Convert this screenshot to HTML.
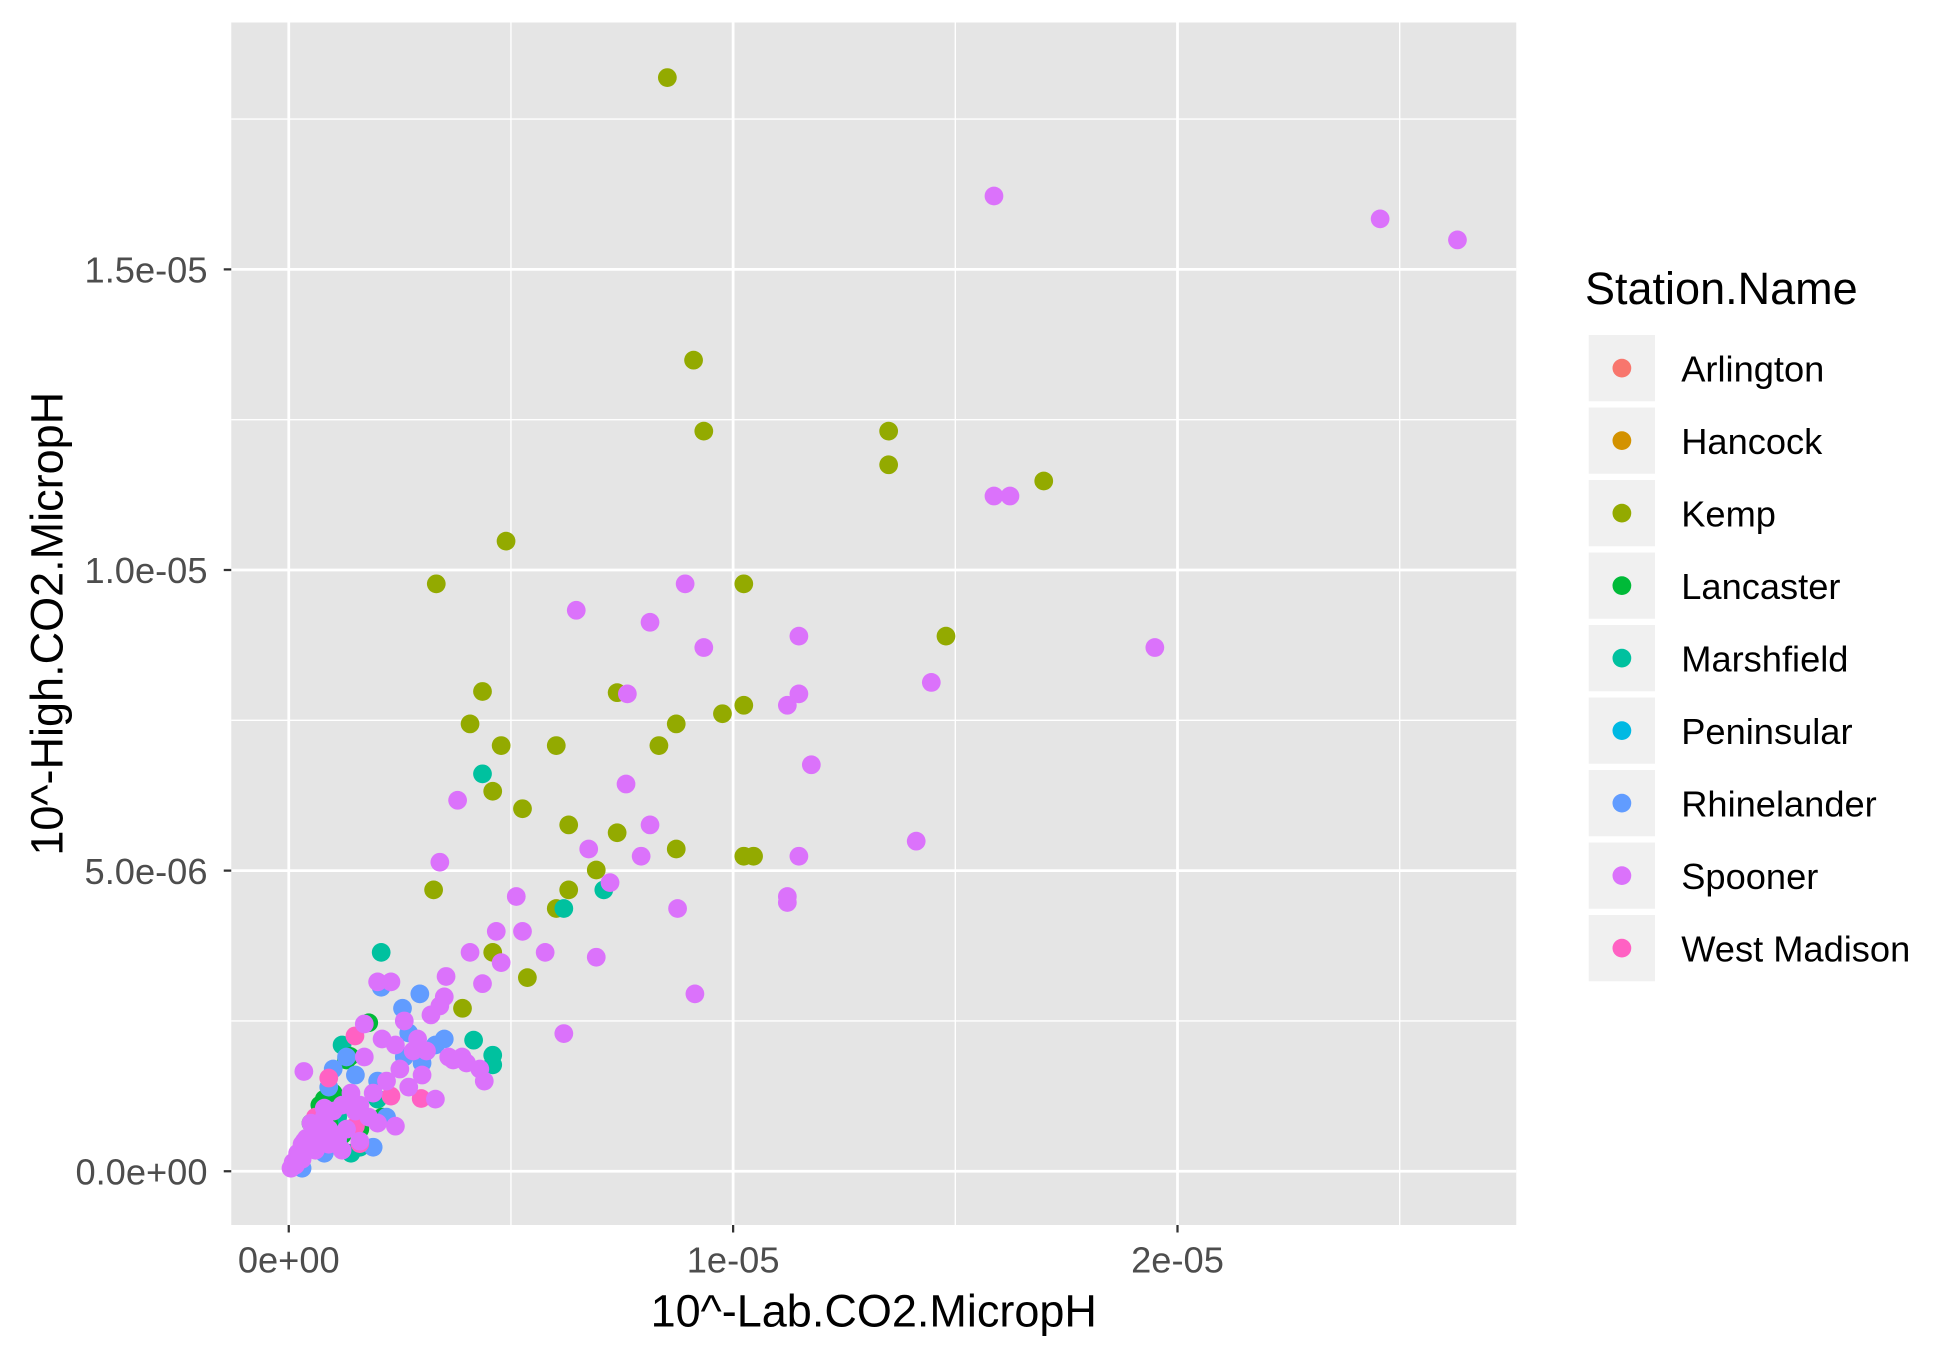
<!DOCTYPE html>
<html><head><meta charset="utf-8"><style>
html,body{margin:0;padding:0;background:#fff}
svg{display:block}
text{font-family:"Liberation Sans",Arial,sans-serif}
</style></head><body>
<svg id="chart" width="1950" height="1350" viewBox="0 0 1560 1080" xmlns="http://www.w3.org/2000/svg">
<rect x="185" y="18" width="1028" height="962" fill="#e5e5e5"/>
<g id="grid"></g>
<g id="points"></g>
<g id="axes"></g>
<text x="699" y="1061" font-size="36" text-anchor="middle" fill="#000">10^-Lab.CO2.MicropH</text>
<text transform="translate(50,499) rotate(-90)" font-size="36" text-anchor="middle" fill="#000">10^-High.CO2.MicropH</text>
<g id="legend">
<text x="1268" y="243" font-size="36" fill="#000">Station.Name</text>
</g>
</svg>
<script>
const stations=["Arlington","Hancock","Kemp","Lancaster","Marshfield","Peninsular","Rhinelander","Spooner","West Madison"];
const colors=["#F8766D","#D39200","#93AA00","#00BA38","#00C19F","#00B9E3","#619CFF","#DB72FB","#FF61C3"];
const xTicks=[0,10,20];
const xTickLabels=["0e+00","1e-05","2e-05"];
const yTicks=[0,5,10,15];
const yTickLabels=["0.0e+00","5.0e-06","1.0e-05","1.5e-05"];
// values in units of 1e-6
const kempX=[8.52,9.11,9.34,13.5,13.5,16.99,4.89,3.32,10.24,14.79,4.36,4.08,7.39,4.78,6.02,8.33,8.72,9.76,10.24,4.59,5.26,6.3,7.39,6.92,8.72,10.24,10.46,6.3,3.26,6.02,4.59,5.37,3.91];
const kempY=[18.19,13.49,12.31,12.31,11.75,11.48,10.48,9.77,9.77,8.9,7.98,7.44,7.96,7.08,7.08,7.08,7.44,7.61,7.75,6.32,6.03,5.76,5.63,5.01,5.36,5.24,5.24,4.68,4.68,4.37,3.64,3.22,2.71];
const marshX=[4.36,7.09,6.19,2.08,4.16,4.59,4.59,1.2,1.6,0.9,2.0,1.4,1.1,0.6];
const marshY=[6.61,4.68,4.37,3.64,2.18,1.93,1.77,2.1,0.4,0.5,1.2,0.3,0.9,0.6];
const lancX=[1.8,1.38,1.3,1.0,0.7,0.9,1.2,1.5,0.5,1.1,1.6,0.8,2.1,0.6];
const lancY=[2.47,1.91,1.85,1.3,1.1,0.8,0.6,1.0,0.8,0.5,0.7,1.2,0.9,0.4];
const rhinX=[2.95,2.56,2.08,3.1,3.3,3.5,2.7,2.0,1.0,0.9,1.3,2.6,0.3,1.1,0.8,2.2,3.0,1.9,0.1,1.5];
const rhinY=[2.95,2.71,3.06,2.0,2.1,2.2,2.3,1.5,1.7,1.4,1.9,1.9,0.05,0.5,0.3,0.9,1.8,0.4,0.1,1.6];
const westX=[2.98,1.49,1.6,0.9,2.3,1.5,0.6];
const westY=[1.21,2.25,0.46,1.55,1.25,0.75,0.9];
const spoonX=[15.87,24.56,26.3,15.87,16.23,8.92,6.47,8.13,9.34,11.48,19.49,14.46,7.62,11.48,11.22,11.76,7.59,3.8,8.13,14.12,3.4,6.75,7.93,7.23,11.48,11.22,11.22,5.12,8.75,5.26,4.67,4.08,5.77,4.78,6.92,9.14,6.19,4.36,3.54,0.34,
 2.0,2.3,1.7,2.6,3.4,3.5,3.2,2.1,2.4,2.8,3.9,4.0,4.3,4.4,3.7,3.0,2.5,1.9,1.6,1.4,1.2,1.0,0.8,0.6,0.4,0.3,0.2,0.1,0.05,0.5,0.7,0.9,1.1,1.3,1.5,1.8,2.2,2.7,3.3,3.6,1.2,0.6,0.3,0.15,0.45,0.25,0.35,0.9,1.6,2.0,2.9,3.1,0.8,1.7,2.4];
const spoonY=[16.22,15.84,15.49,11.23,11.23,9.77,9.33,9.13,8.71,8.9,8.71,8.13,7.94,7.94,7.75,6.76,6.44,6.17,5.76,5.49,5.14,5.36,5.24,4.8,5.24,4.57,4.47,4.57,4.37,3.99,3.99,3.64,3.64,3.47,3.56,2.95,2.29,3.12,3.24,1.66,
 3.15,3.15,2.45,2.5,2.75,2.9,2.6,2.2,2.1,2.0,1.9,1.8,1.7,1.5,1.85,1.6,1.7,1.3,1.1,1.3,1.1,1.0,0.9,0.7,0.55,0.45,0.3,0.15,0.05,0.8,0.6,0.7,0.55,0.7,1.0,0.9,1.5,1.4,1.2,1.9,0.35,0.35,0.2,0.1,0.4,0.25,0.5,0.45,0.5,0.8,2.2,2.0,1.05,1.9,0.75];
const series=[[2,kempX,kempY],[4,marshX,marshY],[3,lancX,lancY],[6,rhinX,rhinY],[8,westX,westY],[7,spoonX,spoonY]];
const NS="http://www.w3.org/2000/svg";
const xs=v=>231+v*35.55, ys=v=>937-v*48.1;
function mk(tag,attrs,parent){const e=document.createElementNS(NS,tag);for(const k in attrs)e.setAttribute(k,attrs[k]);parent.appendChild(e);return e;}
const grid=document.getElementById('grid');
[5,15,25].forEach(v=>{const l=mk('line',{x1:xs(v),x2:xs(v),y1:18,y2:980,stroke:'#fff','stroke-width':1.1},grid);

});
[2.5,7.5,12.5,17.5].forEach(v=>{const l=mk('line',{x1:185,x2:1213,y1:ys(v),y2:ys(v),stroke:'#fff','stroke-width':1.1},grid);

});
const axes=document.getElementById('axes');
xTicks.forEach((v,i)=>{const l=mk('line',{x1:xs(v),x2:xs(v),y1:18,y2:980,stroke:'#fff','stroke-width':2.2},grid);


const t=mk('line',{x1:xs(v),x2:xs(v),y1:980,y2:986,stroke:'#333','stroke-width':1.8},axes);


const tx=mk('text',{x:xs(v),y:1018,'font-size':29,'text-anchor':'middle',fill:'#4d4d4d'},axes);tx.textContent=xTickLabels[i];

});
yTicks.forEach((v,i)=>{const l=mk('line',{x1:185,x2:1213,y1:ys(v),y2:ys(v),stroke:'#fff','stroke-width':2.2},grid);


const t=mk('line',{x1:179,x2:185,y1:ys(v),y2:ys(v),stroke:'#333','stroke-width':1.8},axes);


const tx=mk('text',{x:166,y:ys(v)+10.5,'font-size':29,'text-anchor':'end',fill:'#4d4d4d'},axes);tx.textContent=yTickLabels[i];

});
const pts=document.getElementById('points');
series.forEach(([ci,X,Y])=>{X.forEach((x,j)=>{const c=mk('circle',{cx:xs(x),cy:ys(Y[j]),r:7.5,fill:colors[ci]},pts);

});});
const leg=document.getElementById('legend');
stations.forEach((s,i)=>{const y=268+i*58;
const r=mk('rect',{x:1271,y:y,width:53,height:53,fill:'#f0f0f0'},leg);


const c=mk('circle',{cx:1297.5,cy:y+26.5,r:7.5,fill:colors[i]},leg);


const t=mk('text',{x:1345,y:y+37,'font-size':29,fill:'#000'},leg);t.textContent=s;

});
</script>
</body></html>
